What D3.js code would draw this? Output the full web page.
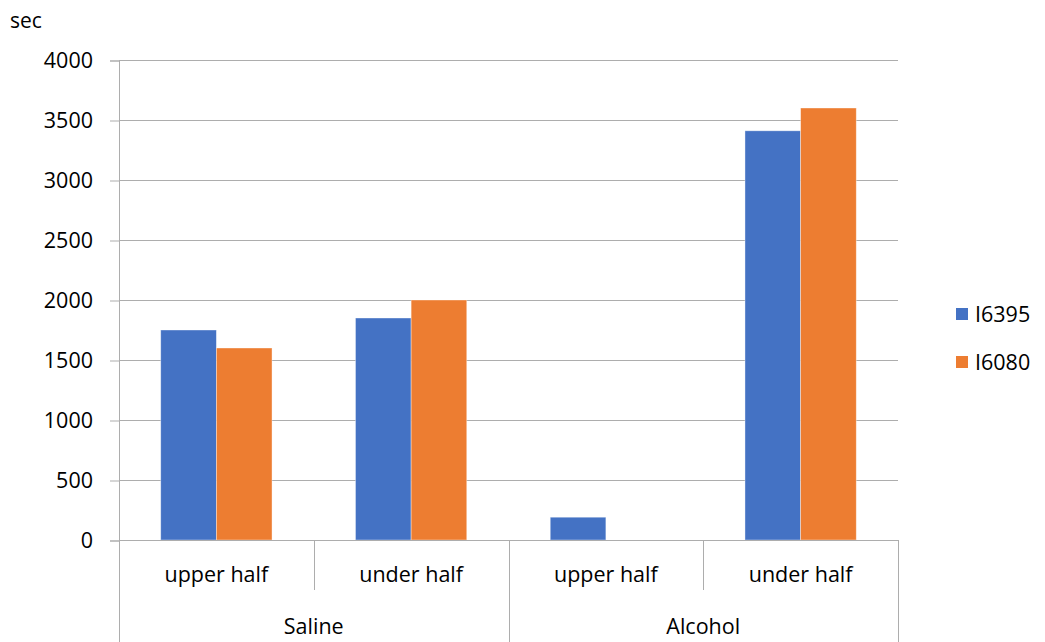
<!DOCTYPE html>
<html>
<head>
<meta charset="utf-8">
<script src="https://cdn.jsdelivr.net/npm/d3@7"></script>
<style>
  body { margin: 0; background: #fff; }
  text { font-family: "Open Sans", "Liberation Sans", sans-serif; fill: #000; }
</style>
</head>
<body>
<div id="chart"></div>
<script>
// groups and sub-categories (two-level category axis)
var groups = ["Saline", "Alcohol"];
var subCats = ["upper half", "under half"];
var seriesNames = ["I6395", "I6080"];
var seriesColors = ["#4472C4", "#ED7D31"];
// values per series, in order: Saline upper, Saline under, Alcohol upper, Alcohol under
var i6395 = [1750, 1850, 190, 3410];
var i6080 = [1600, 2000, 0, 3600];
var yTicks = [0, 500, 1000, 1500, 2000, 2500, 3000, 3500, 4000];

var width = 1045, height = 642;
var plotL = 119, plotR = 898, plotT = 60, plotB = 540;
var fontSize = 21.5;

var svg = d3.select("#chart").append("svg")
    .attr("width", width)
    .attr("height", height);

var cats = [];
groups.forEach(function (g) {
    subCats.forEach(function (s) { cats.push(g + "|" + s); });
});

var x = d3.scaleBand().domain(cats).range([plotL, plotR]);
var xInner = d3.scaleBand().domain(seriesNames)
    .range([0, x.bandwidth()])
    .paddingInner(0)
    .paddingOuter(0.75);
var xGroup = d3.scaleBand().domain(groups).range([plotL, plotR]);
var y = d3.scaleLinear().domain([0, 4000]).range([plotB, plotT]);

// gridlines
svg.append("g").selectAll("line")
    .data(yTicks.slice(1))
    .enter().append("line")
    .attr("x1", plotL).attr("x2", plotR)
    .attr("y1", function (d) { return y(d) + 0.5; })
    .attr("y2", function (d) { return y(d) + 0.5; })
    .attr("stroke", "#adadad")
    .attr("stroke-width", 1);

// y axis
var yAxis = svg.append("g")
    .attr("transform", "translate(" + plotL + ",0.5)")
    .call(d3.axisLeft(y).tickValues(yTicks).tickFormat(d3.format("d"))
        .tickSize(9).tickPadding(17));
yAxis.select(".domain").attr("stroke", "#adadad");
yAxis.selectAll(".tick line").attr("stroke", "#adadad");
yAxis.selectAll(".tick text")
    .attr("font-size", fontSize)
    .style("font-family", "'Open Sans', sans-serif")
    .attr("fill", "#000");

// bars
var data = [];
cats.forEach(function (c, i) {
    data.push({ cat: c, series: seriesNames[0], value: i6395[i] });
    data.push({ cat: c, series: seriesNames[1], value: i6080[i] });
});

svg.append("g").selectAll("rect")
    .data(data.filter(function (d) { return d.value > 0; }))
    .enter().append("rect")
    .attr("x", function (d) { return x(d.cat) + xInner(d.series); })
    .attr("width", xInner.bandwidth())
    .attr("y", function (d) { return y(d.value); })
    .attr("height", function (d) { return y(0) - y(d.value); })
    .attr("fill", function (d) { return seriesColors[seriesNames.indexOf(d.series)]; })
    .attr("stroke", "#ffffff")
    .attr("stroke-opacity", 0.5)
    .attr("stroke-width", 0.75);

// x axis baseline
svg.append("line")
    .attr("x1", plotL).attr("x2", plotR)
    .attr("y1", plotB + 0.5).attr("y2", plotB + 0.5)
    .attr("stroke", "#adadad");

// sub-category separators
var sepX = cats.map(function (c) { return x(c); }).concat([plotR]);
svg.append("g").selectAll("line")
    .data(sepX)
    .enter().append("line")
    .attr("x1", function (d) { return Math.round(d) + 0.5; })
    .attr("x2", function (d) { return Math.round(d) + 0.5; })
    .attr("y1", plotB)
    .attr("y2", function (d, i) {
        return (i % subCats.length === 0) ? height : 590;
    })
    .attr("stroke", "#adadad");

// sub-category labels
svg.append("g").selectAll("text")
    .data(cats)
    .enter().append("text")
    .attr("x", function (d) { return x(d) + x.bandwidth() / 2; })
    .attr("y", 582)
    .attr("text-anchor", "middle")
    .attr("font-size", fontSize)
    .text(function (d) { return d.split("|")[1]; });

// group labels
svg.append("g").selectAll("text")
    .data(groups)
    .enter().append("text")
    .attr("x", function (d) { return xGroup(d) + xGroup.bandwidth() / 2; })
    .attr("y", 634)
    .attr("text-anchor", "middle")
    .attr("font-size", fontSize)
    .text(function (d) { return d; });

// unit label
svg.append("text")
    .attr("x", 10)
    .attr("y", 28)
    .attr("font-size", 21)
    .text("sec");

// legend
var legend = svg.append("g").selectAll("g")
    .data(seriesNames)
    .enter().append("g")
    .attr("transform", function (d, i) { return "translate(956," + (308 + i * 48) + ")"; });
legend.append("rect")
    .attr("width", 12).attr("height", 12)
    .attr("fill", function (d, i) { return seriesColors[i]; });
legend.append("text")
    .attr("x", 19)
    .attr("y", 6)
    .attr("dy", "0.35em")
    .attr("font-size", fontSize)
    .text(function (d) { return d; });
</script>
</body>
</html>
